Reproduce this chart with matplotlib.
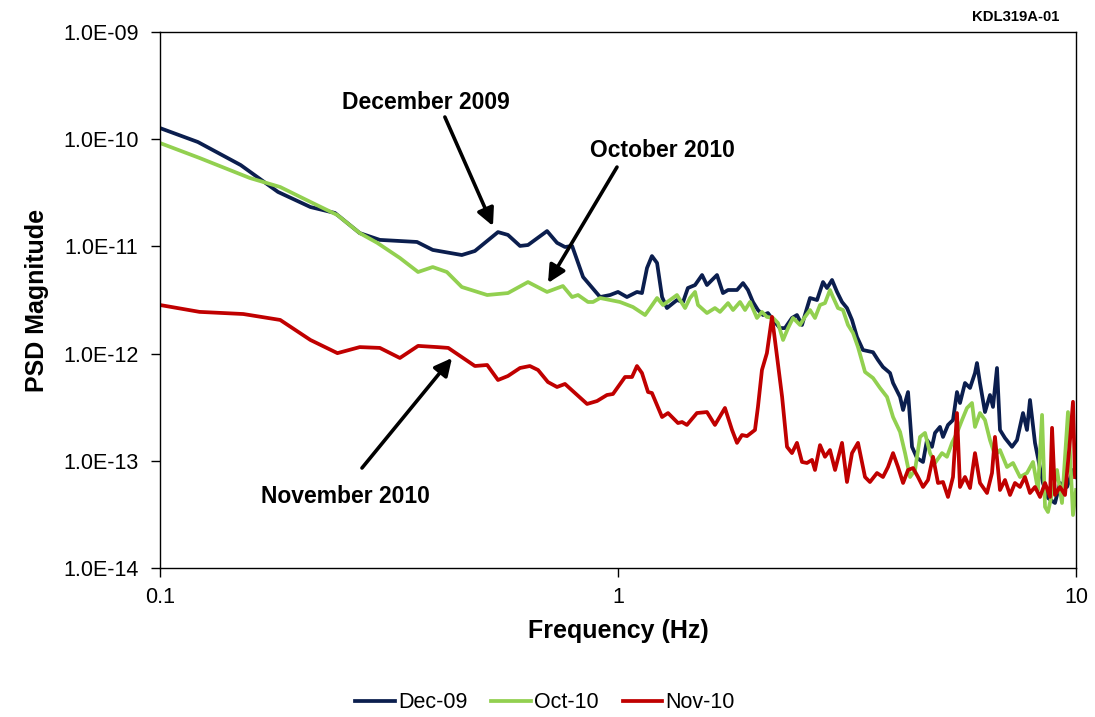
import matplotlib
matplotlib.use("Agg")
import matplotlib.pyplot as plt
from matplotlib.ticker import FuncFormatter, NullLocator, FixedLocator

plt.rcParams['font.family'] = ['Liberation Sans', 'DejaVu Sans']

# ---------------- data ----------------
dec09_freq = [0.100, 0.121, 0.150, 0.181, 0.213, 0.241, 0.273, 0.302, 0.364, 0.394,
              0.456, 0.487, 0.547, 0.575, 0.611, 0.636, 0.700, 0.736, 0.766, 0.794,
              0.839, 0.914, 0.961, 1.000,
              1.046, 1.100, 1.128, 1.157, 1.186, 1.217, 1.248, 1.279, 1.345, 1.387,
              1.421, 1.473, 1.526, 1.564, 1.604, 1.645, 1.695, 1.739, 1.819, 1.875,
              1.922, 1.971, 2.021, 2.073, 2.125, 2.180, 2.258, 2.315, 2.398, 2.459,
              2.522, 2.586, 2.626, 2.720, 2.803, 2.860, 2.933, 3.008, 3.084, 3.162,
              3.243, 3.325, 3.427, 3.604, 3.695, 3.789, 3.926, 3.986, 4.129, 4.192,
              4.298, 4.385, 4.497, 4.634, 4.728, 4.848, 4.922, 5.047, 5.124, 5.254,
              5.388, 5.497, 5.581, 5.723, 5.869, 6.018, 6.078, 6.171, 6.328, 6.489,
              6.588, 6.722, 6.824, 6.998, 7.249, 7.433, 7.661, 7.816, 7.935, 8.137,
              8.470, 8.686, 8.997, 9.228, 9.557, 9.850, 10.0]
dec09_psd = [1.27e-10, 9.41e-11, 5.74e-11, 3.22e-11, 2.33e-11, 2.05e-11, 1.33e-11, 1.15e-11, 1.10e-11, 9.27e-12,
             8.31e-12, 9.06e-12, 1.36e-11, 1.28e-11, 1.01e-11, 1.03e-11, 1.39e-11, 1.08e-11, 9.87e-12, 1.01e-11,
             5.18e-12, 3.37e-12, 3.52e-12, 3.76e-12,
             3.37e-12, 3.76e-12, 3.67e-12, 6.29e-12, 8.13e-12, 7.00e-12, 3.37e-12, 2.66e-12, 3.16e-12, 3.03e-12,
             4.09e-12, 4.36e-12, 5.41e-12, 4.36e-12, 4.86e-12, 5.41e-12, 3.67e-12, 3.92e-12, 3.92e-12, 4.55e-12,
             3.92e-12, 3.03e-12, 2.55e-12, 2.29e-12, 2.39e-12, 2.06e-12, 1.73e-12, 1.73e-12, 2.15e-12, 2.29e-12,
             1.85e-12, 2.66e-12, 3.30e-12, 3.16e-12, 4.65e-12, 4.09e-12, 4.86e-12, 3.76e-12, 3.03e-12, 2.66e-12,
             2.06e-12, 1.43e-12, 1.08e-12, 1.03e-12, 8.72e-13, 7.50e-13, 6.59e-13, 5.32e-13, 3.94e-13, 2.98e-13,
             4.38e-13, 1.35e-13, 1.06e-13, 9.75e-14, 1.56e-13, 1.35e-13, 1.82e-13, 2.07e-13, 1.67e-13, 2.16e-13,
             2.40e-13, 4.38e-13, 3.46e-13, 5.32e-13, 4.78e-13, 6.59e-13, 8.17e-13, 5.32e-13, 2.85e-13, 4.11e-13,
             3.18e-13, 7.34e-13, 1.94e-13, 1.63e-13, 1.35e-13, 1.56e-13, 2.79e-13, 1.94e-13, 3.69e-13, 1.47e-13,
             6.21e-14, 4.50e-14, 4.04e-14, 6.21e-14, 5.70e-14, 8.21e-14, 7.06e-14]

oct10_freq = [0.100, 0.122, 0.157, 0.183, 0.213, 0.244, 0.273, 0.298, 0.334, 0.366,
              0.394, 0.423, 0.456, 0.518, 0.575, 0.636, 0.700, 0.758, 0.794, 0.818,
              0.860, 0.882, 0.914, 1.010,
              1.078, 1.146, 1.175, 1.217, 1.254, 1.299, 1.345, 1.401, 1.436, 1.473,
              1.495, 1.564, 1.628, 1.670, 1.739, 1.783, 1.847, 1.894, 1.942, 2.011,
              2.062, 2.114, 2.180, 2.235, 2.293, 2.351, 2.411, 2.497, 2.560, 2.626,
              2.692, 2.761, 2.831, 2.903, 2.947, 3.022, 3.099, 3.178, 3.259, 3.342,
              3.462, 3.604, 3.733, 3.867, 3.986, 4.129, 4.234, 4.342, 4.452, 4.565,
              4.681, 4.800, 4.922, 5.098, 5.227, 5.362, 5.497, 5.638, 5.781, 5.928,
              6.018, 6.171, 6.328, 6.489, 6.654, 6.824, 7.069, 7.286, 7.546, 7.816,
              8.055, 8.260, 8.431, 8.558, 8.686, 9.090, 9.320, 9.605, 9.850, 10.0]
oct10_psd = [9.21e-11, 6.68e-11, 4.35e-11, 3.58e-11, 2.60e-11, 1.96e-11, 1.33e-11, 1.08e-11, 7.80e-12, 5.77e-12,
             6.42e-12, 5.77e-12, 4.18e-12, 3.52e-12, 3.67e-12, 4.65e-12, 3.76e-12, 4.27e-12, 3.37e-12, 3.52e-12,
             3.03e-12, 3.03e-12, 3.30e-12, 3.03e-12,
             2.72e-12, 2.29e-12, 2.66e-12, 3.30e-12, 2.84e-12, 3.16e-12, 3.52e-12, 2.66e-12, 3.30e-12, 3.76e-12,
             2.84e-12, 2.39e-12, 2.66e-12, 2.45e-12, 2.96e-12, 2.55e-12, 3.03e-12, 2.55e-12, 3.03e-12, 2.15e-12,
             2.45e-12, 2.20e-12, 2.15e-12, 1.93e-12, 1.34e-12, 1.73e-12, 2.15e-12, 1.85e-12, 2.20e-12, 2.55e-12,
             2.15e-12, 2.84e-12, 2.96e-12, 3.92e-12, 3.37e-12, 2.66e-12, 2.55e-12, 1.85e-12, 1.56e-12, 1.15e-12,
             6.74e-13, 5.92e-13, 4.78e-13, 3.94e-13, 2.56e-13, 1.86e-13, 1.18e-13, 7.06e-14, 8.21e-14, 1.67e-13,
             1.82e-13, 1.18e-13, 9.54e-14, 1.18e-13, 1.09e-13, 1.47e-13, 1.82e-13, 2.40e-13, 3.11e-13, 3.46e-13,
             2.07e-13, 2.79e-13, 2.40e-13, 1.56e-13, 1.13e-13, 1.26e-13, 8.75e-14, 9.54e-14, 7.06e-14, 7.69e-14,
             9.75e-14, 5.34e-14, 2.68e-13, 3.71e-14, 3.33e-14, 8.21e-14, 4.04e-14, 2.85e-13, 3.12e-14, 5.34e-14]

nov10_freq = [0.100, 0.122, 0.152, 0.183, 0.213, 0.244, 0.273, 0.302, 0.334, 0.366,
              0.403, 0.426, 0.487, 0.518, 0.547, 0.575, 0.611, 0.642, 0.669, 0.703,
              0.736, 0.766, 0.856, 0.900, 0.946, 0.975, 1.036, 1.073, 1.100, 1.128,
              1.163, 1.186, 1.248, 1.286, 1.352, 1.380, 1.414, 1.487, 1.564, 1.628,
              1.712, 1.774, 1.819, 1.865, 1.913, 1.991, 2.021, 2.062, 2.114, 2.169,
              2.225, 2.282, 2.339, 2.398, 2.459, 2.522, 2.586, 2.652, 2.692, 2.761,
              2.831, 2.903, 2.978, 3.084, 3.162, 3.243, 3.342, 3.462, 3.549, 3.677,
              3.789, 3.886, 3.986, 4.087, 4.192, 4.298, 4.407, 4.519, 4.634, 4.752,
              4.873, 4.997, 5.124, 5.254, 5.388, 5.497, 5.581, 5.723, 5.869, 6.018,
              6.171, 6.393, 6.555, 6.654, 6.824, 6.998, 7.177, 7.358, 7.546, 7.737,
              7.935, 8.137, 8.346, 8.558, 8.776, 8.865, 8.997, 9.228, 9.462, 9.703,
              9.850, 9.950]
nov10_psd = [2.84e-12, 2.45e-12, 2.34e-12, 2.06e-12, 1.34e-12, 1.01e-12, 1.15e-12, 1.13e-12, 9.10e-13, 1.18e-12,
             1.15e-12, 1.13e-12, 7.66e-13, 7.83e-13, 5.67e-13, 6.18e-13, 7.34e-13, 7.66e-13, 7.03e-13, 5.43e-13,
             4.88e-13, 5.21e-13, 3.39e-13, 3.61e-13, 4.11e-13, 4.20e-13, 6.05e-13, 6.05e-13, 7.66e-13, 6.59e-13,
             4.38e-13, 4.29e-13, 2.56e-13, 2.79e-13, 2.25e-13, 2.30e-13, 2.16e-13, 2.79e-13, 2.85e-13, 2.16e-13,
             3.11e-13, 1.94e-13, 1.47e-13, 1.74e-13, 1.70e-13, 1.94e-13, 3.18e-13, 7.03e-13, 1.01e-12, 2.20e-12,
             9.31e-13, 3.94e-13, 1.35e-13, 1.18e-13, 1.47e-13, 9.75e-14, 9.54e-14, 1.02e-13, 8.21e-14, 1.40e-13,
             1.09e-13, 1.26e-13, 8.21e-14, 1.47e-13, 6.34e-14, 1.18e-13, 1.47e-13, 7.06e-14, 6.34e-14, 7.69e-14,
             7.06e-14, 8.75e-14, 1.18e-13, 8.75e-14, 6.21e-14, 8.21e-14, 8.56e-14, 7.06e-14, 5.70e-14, 6.62e-14,
             1.09e-13, 6.21e-14, 6.34e-14, 4.60e-14, 7.06e-14, 2.79e-13, 5.70e-14, 7.06e-14, 5.57e-14, 1.18e-13,
             6.21e-14, 5.01e-14, 7.69e-14, 1.67e-13, 5.34e-14, 6.62e-14, 4.80e-14, 6.21e-14, 5.70e-14, 7.06e-14,
             5.01e-14, 5.70e-14, 4.60e-14, 6.21e-14, 4.60e-14, 2.03e-13, 4.80e-14, 5.70e-14, 4.80e-14, 1.56e-13,
             3.55e-13, 7.06e-14]

series_labels = ["Dec-09", "Oct-10", "Nov-10"]
series_colors = ["#0B1E4E", "#92D050", "#C00000"]
x_ticks = [0.1, 1, 10]
x_tick_labels = ["0.1", "1", "10"]
y_ticks = [1e-14, 1e-13, 1e-12, 1e-11, 1e-10, 1e-9]

# ---------------- figure ----------------
fig = plt.figure(figsize=(10.95, 7.17), dpi=100)
ax = fig.add_axes([160/1095, 1 - 568/717, 916/1095, 536/717])

for fr, ps, lab, col in zip([dec09_freq, oct10_freq, nov10_freq],
                            [dec09_psd, oct10_psd, nov10_psd],
                            series_labels, series_colors):
    ax.plot(fr, ps, color=col, lw=2.7, label=lab, solid_joinstyle='round')

ax.set_xscale('log')
ax.set_yscale('log')
ax.set_xlim(0.1, 10)
ax.set_ylim(1e-14, 1e-9)
ax.xaxis.set_major_locator(FixedLocator(x_ticks))
ax.xaxis.set_minor_locator(NullLocator())
ax.yaxis.set_major_locator(FixedLocator(y_ticks))
ax.yaxis.set_minor_locator(NullLocator())
ax.set_xticklabels(x_tick_labels)
ax.yaxis.set_major_formatter(FuncFormatter(lambda v, p: f"{v:.1E}"))
ax.tick_params(axis='both', which='major', direction='out', length=6.5, width=1,
               labelsize=15.5, color='black')
ax.tick_params(axis='y', pad=9)
ax.tick_params(axis='x', pad=7)
for s in ax.spines.values():
    s.set_linewidth(1.0)
    s.set_color('black')

ax.set_xlabel("Frequency (Hz)", fontsize=18, fontweight='bold', labelpad=8)
ax.set_ylabel("PSD Magnitude", fontsize=18, fontweight='bold', labelpad=10)

arrow_kw = dict(arrowstyle='-|>', color='black', lw=2.6, mutation_scale=26,
                shrinkA=0, shrinkB=0)
# December 2009
ax.annotate('', xy=(0.3635, 0.638), xytext=(0.311, 0.8414),
            xycoords='axes fraction', textcoords='axes fraction', arrowprops=arrow_kw)
ax.text(0.2904, 0.8694, "December 2009", transform=ax.transAxes, ha='center', va='center',
        fontsize=16.5, fontweight='bold')
# October 2010
ax.annotate('', xy=(0.4236, 0.5317), xytext=(0.4989, 0.748),
            xycoords='axes fraction', textcoords='axes fraction', arrowprops=arrow_kw)
ax.text(0.548, 0.778, "October 2010", transform=ax.transAxes, ha='center', va='center',
        fontsize=16.5, fontweight='bold')
# November 2010
ax.annotate('', xy=(0.3188, 0.3918), xytext=(0.2205, 0.1866),
            xycoords='axes fraction', textcoords='axes fraction', arrowprops=arrow_kw)
ax.text(0.202, 0.1343, "November 2010", transform=ax.transAxes, ha='center', va='center',
        fontsize=16.5, fontweight='bold')

fig.text(1016/1095, 1 - 17/717, "KDL319A-01", ha='center', va='center',
         fontsize=10.7, fontweight='bold')

fig.legend(loc='center', bbox_to_anchor=(545/1095, 1 - 703/717), ncol=3, frameon=False,
           fontsize=15.5, handlelength=1.85, handletextpad=0.15, columnspacing=1.1)

fig.savefig("out.png", dpi=100)
